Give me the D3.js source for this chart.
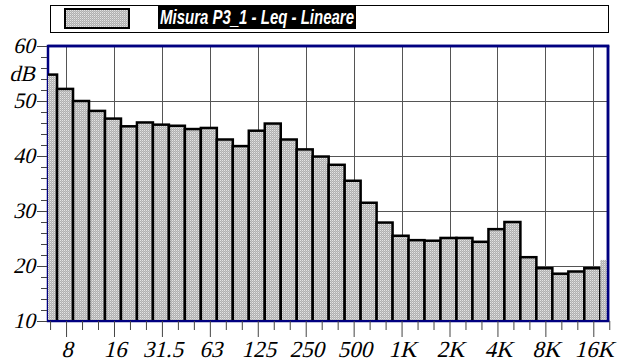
<!DOCTYPE html>
<html>
<head>
<meta charset="utf-8">
<script src="https://cdn.jsdelivr.net/npm/d3@7"></script>
<style>
  body { margin: 0; background: #fff; }
  svg { display: block; }
</style>
</head>
<body>
<div id="chart"></div>
<script>
// 1/3 octave band centres (Hz) and levels (dB)
var bands = [6.3, 8, 10, 12.5, 16, 20, 25, 31.5, 40, 50, 63, 80, 100, 125, 160, 200, 250, 315,
  400, 500, 630, 800, 1000, 1250, 1600, 2000, 2500, 3150, 4000, 5000, 6300, 8000, 10000, 12500, 16000, 20000];
var levels = [54.8, 52.2, 50.0, 48.2, 46.8, 45.4, 46.1, 45.7, 45.5, 44.9, 45.1, 43.0, 41.8, 44.6, 45.9, 43.0, 41.2, 39.9,
  38.4, 35.5, 31.5, 27.9, 25.5, 24.7, 24.6, 25.1, 25.1, 24.4, 26.7, 28.0, 21.6, 19.6, 18.6, 19.0, 19.6, 21.1];

var tickFreqs = [8, 16, 31.5, 63, 125, 250, 500, 1000, 2000, 4000, 8000, 16000];
var tickLabels = ["8", "16", "31.5", "63", "125", "250", "500", "1K", "2K", "4K", "8K", "16K"];
var yTicks = [10, 20, 30, 40, 50, 60];
var legendLabel = "Misura P3_1 - Leq - Lineare";

var svgWidth = 620;
var svgHeight = 362;
var plot = { left: 48, right: 608, top: 46, bottom: 321 };
var serif = "Liberation Serif, Times New Roman, serif";

var svg = d3.select("#chart")
  .append("svg")
  .attr("width", svgWidth)
  .attr("height", svgHeight);

var defs = svg.append("defs");

// dotted grey fill
var pat = defs.append("pattern")
  .attr("id", "dots")
  .attr("width", 2)
  .attr("height", 2)
  .attr("patternUnits", "userSpaceOnUse");
pat.append("rect").attr("width", 2).attr("height", 2).attr("fill", "#b0b0b0");
pat.append("rect").attr("width", 1).attr("height", 1).attr("fill", "#e4e4e4");
pat.append("rect").attr("x", 1).attr("y", 1).attr("width", 1).attr("height", 1).attr("fill", "#c4c4c4");

defs.append("clipPath").attr("id", "plotclip")
  .append("rect")
  .attr("x", plot.left)
  .attr("y", plot.top)
  .attr("width", plot.right - plot.left)
  .attr("height", plot.bottom - plot.top);

// scales: x by band index (1/3 octave steps), y in dB
var xScale = d3.scaleLinear()
  .domain([-0.13, 34.92])
  .range([plot.left, plot.right]);
var yScale = d3.scaleLinear()
  .domain([10, 60])
  .range([plot.bottom, plot.top]);

var bandW = xScale(1) - xScale(0);
function bandIndex(f) { return bands.indexOf(f); }

// italic look done with a skew, the serif italic face is not picked up
function slanted(sel, x, y) {
  return sel.attr("transform", (d, i) => `translate(${x(d, i)}, ${y(d, i)}) skewX(-14)`);
}

// legend
var legend = svg.append("g");
legend.append("rect")
  .attr("x", 50.5).attr("y", 5.5)
  .attr("width", 558).attr("height", 27)
  .attr("fill", "#fff")
  .attr("stroke", "#000")
  .attr("stroke-width", 1);
legend.append("rect")
  .attr("x", 65).attr("y", 9)
  .attr("width", 64).attr("height", 19)
  .attr("fill", "url(#dots)")
  .attr("stroke", "#000")
  .attr("stroke-width", 2);
legend.append("rect")
  .attr("x", 158).attr("y", 5)
  .attr("width", 198).attr("height", 24)
  .attr("fill", "#000");
legend.append("text")
  .attr("x", 160).attr("y", 24)
  .attr("font-family", "Liberation Sans, Arial, sans-serif")
  .attr("font-style", "italic")
  .attr("font-weight", "bold")
  .attr("font-size", 20)
  .attr("textLength", 194)
  .attr("lengthAdjust", "spacingAndGlyphs")
  .attr("fill", "#fff")
  .text(legendLabel);

// grid
var grid = svg.append("g").attr("stroke", "#555").attr("stroke-width", 1);
grid.selectAll("line.h")
  .data(yTicks.filter(d => d > 10 && d < 60))
  .enter().append("line")
  .attr("x1", plot.left).attr("x2", plot.right)
  .attr("y1", d => Math.round(yScale(d)) + 0.5)
  .attr("y2", d => Math.round(yScale(d)) + 0.5);
grid.selectAll("line.v")
  .data(tickFreqs)
  .enter().append("line")
  .attr("x1", d => Math.round(xScale(bandIndex(d))) + 0.5)
  .attr("x2", d => Math.round(xScale(bandIndex(d))) + 0.5)
  .attr("y1", plot.top).attr("y2", plot.bottom);

// frame (left side gets partly covered by the first bar)
svg.append("rect")
  .attr("x", plot.left).attr("y", plot.top)
  .attr("width", plot.right - plot.left)
  .attr("height", plot.bottom - plot.top)
  .attr("fill", "none")
  .attr("stroke", "#000080")
  .attr("stroke-width", 2.5);

// bars
svg.append("g")
  .attr("clip-path", "url(#plotclip)")
  .selectAll("rect")
  .data(levels)
  .enter()
  .append("rect")
  .attr("x", (d, i) => xScale(i) - bandW / 2 - 1)
  .attr("y", d => yScale(d))
  .attr("width", bandW)
  .attr("height", d => yScale(10) - yScale(d) + 4)
  .attr("fill", "url(#dots)")
  .attr("stroke", (d, i) => i === levels.length - 1 ? "none" : "#000")
  .attr("stroke-width", 2.5);

// redraw top / right / bottom border over bars
var border = svg.append("g").attr("stroke", "#000080").attr("stroke-width", 2.5);
border.append("line").attr("x1", plot.left).attr("x2", plot.right + 1.25).attr("y1", plot.top).attr("y2", plot.top);
border.append("line").attr("x1", plot.right).attr("x2", plot.right).attr("y1", plot.top).attr("y2", plot.bottom);
border.append("line").attr("x1", plot.left).attr("x2", plot.right + 1.25).attr("y1", plot.bottom).attr("y2", plot.bottom).attr("stroke-width", 2);

// y axis: major ticks every 10 dB, minor every 2 dB
var yAxis = d3.axisLeft(yScale)
  .tickValues(d3.range(10, 61, 2))
  .tickSize(6)
  .tickFormat("");
var yAxisG = svg.append("g")
  .attr("transform", `translate(${plot.left - 1}, 0)`)
  .call(yAxis);
yAxisG.select(".domain").remove();
yAxisG.selectAll(".tick line")
  .attr("stroke", "#444")
  .attr("x2", d => d % 10 === 0 ? -10 : -6);

slanted(svg.append("g").selectAll("text")
  .data(yTicks)
  .enter().append("text"), () => 35, d => yScale(d) + 7)
  .attr("text-anchor", "end")
  .attr("font-family", serif)
  .attr("font-size", 22)
  .attr("fill", "#000")
  .text(d => d);

slanted(svg.append("g").selectAll("text")
  .data(["dB"])
  .enter().append("text"), () => 35, () => 81)
  .attr("text-anchor", "end")
  .attr("font-family", serif)
  .attr("font-size", 22)
  .text(d => d);

// x axis: ticks at every band, longer at octaves
var xAxis = d3.axisBottom(xScale)
  .tickValues(d3.range(0, bands.length))
  .tickSize(9)
  .tickFormat("");
var xAxisG = svg.append("g")
  .attr("transform", `translate(0, ${plot.bottom})`)
  .call(xAxis);
xAxisG.select(".domain").remove();
xAxisG.selectAll(".tick line")
  .attr("stroke", "#444")
  .attr("y2", d => tickFreqs.indexOf(bands[d]) >= 0 ? 16 : 9);

slanted(svg.append("g").selectAll("text")
  .data(tickFreqs)
  .enter().append("text"), d => xScale(bandIndex(d)) + 1, () => 357)
  .attr("text-anchor", "middle")
  .attr("font-family", serif)
  .attr("font-size", 23)
  .attr("fill", "#000")
  .text((d, i) => tickLabels[i]);
</script>
</body>
</html>
